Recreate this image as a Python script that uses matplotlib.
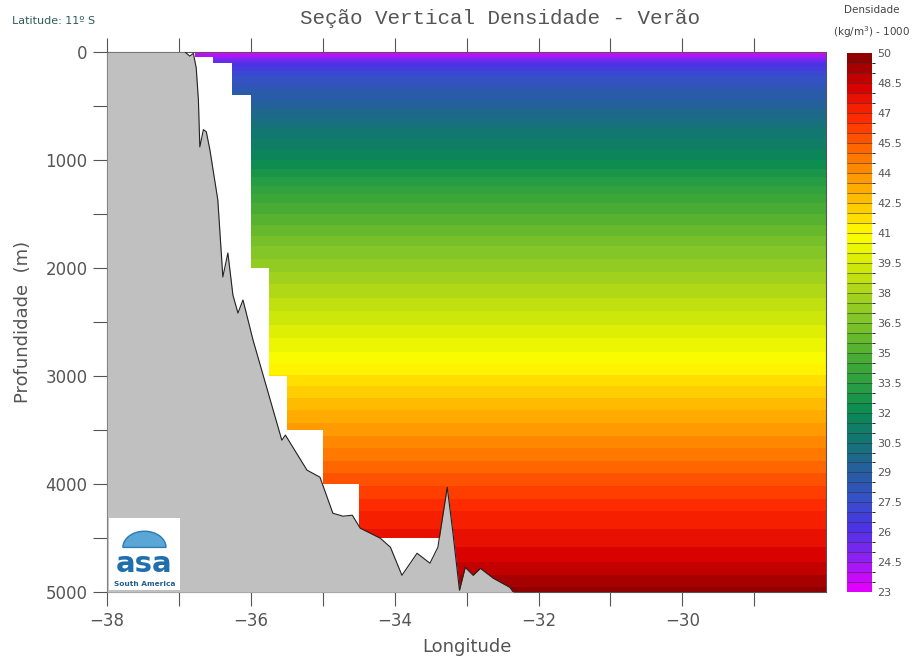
import matplotlib.pyplot as plt
import numpy as np
from matplotlib.colors import LinearSegmentedColormap, BoundaryNorm
from matplotlib.patches import Rectangle, Wedge

# density profile (kg/m3 - 1000) read along depth
prof_depth = [0, 50, 100, 200, 350, 500, 700, 1000, 1400, 1800, 2150, 2450, 2800, 3200, 3550, 3900, 4250, 4650, 5000]
prof_dens = [23.0, 24.5, 26.0, 27.3, 28.5, 29.3, 30.5, 32.0, 34.5, 36.5, 38.0, 39.2, 40.6, 42.5, 44.0, 45.5, 47.0, 48.2, 49.7]

# last valid data depth for each column (step edges in longitude)
grid_lon = [-38.0, -36.78, -36.53, -36.26, -36.0, -35.75, -35.5, -35.0, -34.5, -33.25, -28.0]
grid_maxdepth = [0, 50, 100, 400, 2000, 3000, 3500, 4000, 4500, 5000, 5000]

# bathymetry
bathy_lon = [-38.0, -36.92, -36.85, -36.80, -36.76, -36.73, -36.71, -36.66, -36.62, -36.57, -36.46, -36.39,
             -36.32, -36.25, -36.18, -36.11, -35.97, -35.77, -35.57, -35.52, -35.22, -35.04, -34.86,
             -34.72, -34.59, -34.48, -34.20, -34.06, -33.90, -33.69, -33.51, -33.40, -33.27, -33.19,
             -33.10, -33.02, -32.91, -32.81, -32.63, -32.40, -32.35]
bathy_depth = [0, 0, 40, 15, 150, 444, 880, 720, 740, 907, 1370, 2083,
               1861, 2250, 2417, 2296, 2667, 3130, 3593, 3546, 3870, 3935, 4269,
               4296, 4287, 4407, 4500, 4583, 4843, 4639, 4731, 4583, 4028, 4454,
               4981, 4769, 4843, 4778, 4870, 4954, 5000]

# colour scale
cbar_vals = [23, 24.5, 26, 27.5, 29, 30.5, 32, 33.5, 35, 36.5, 38, 39.5, 41, 42.5, 44, 45.5, 47, 48.5, 50]
cbar_cols = ["#e000ff", "#8a22f2", "#4a34e6", "#3650c8", "#24609a", "#137474", "#0b8c50", "#2ea040",
             "#50b030", "#80c428", "#a8d41a", "#d8ec06", "#ffff00", "#ffc400", "#ff9600", "#ff6000",
             "#ff2800", "#d80000", "#8c0000"]

cmap = LinearSegmentedColormap.from_list(
    "dens", [((v - 23) / 27, c) for v, c in zip(cbar_vals, cbar_cols)])
levels = np.arange(23, 50.01, 0.5)
norm = BoundaryNorm(levels, cmap.N)

fig = plt.figure(figsize=(9.15, 6.64), dpi=100)
ax = fig.add_axes([0.117, 0.108, 0.786, 0.814])

lon2 = np.array([-38.0, -28.0])
Z = np.tile(np.array(prof_dens)[:, None], (1, 2))
ax.contourf(lon2, prof_depth, Z, levels=levels, cmap=cmap, norm=norm, zorder=1)

ax.fill_between(grid_lon, grid_maxdepth, 5000, step="post", color="white", lw=0, zorder=2)
ax.fill_between(bathy_lon, bathy_depth, 5000, color="#c0c0c0", lw=0, zorder=3)
ax.plot(bathy_lon, bathy_depth, color="#222222", lw=0.8, zorder=4)

ax.set_xlim(-38, -28)
ax.set_ylim(5000, 0)
ax.set_xticks(np.arange(-38, -28.5, 2))
ax.set_xticks(np.arange(-37, -28.5, 2), minor=True)
ax.set_yticks(np.arange(0, 5001, 1000))
ax.set_yticks(np.arange(500, 5000, 1000), minor=True)
for which in ("major", "minor"):
    ax.tick_params(which=which, direction="out", length=10, width=0.8, color="#555555",
                   top=True, labelsize=12, labelcolor="#555555", pad=4)
for sp in ax.spines.values():
    sp.set_color("#555555")
    sp.set_linewidth(0.8)

ax.set_xlabel("Longitude", fontsize=13, color="#555555", labelpad=6)
ax.set_ylabel("Profundidade  (m)", fontsize=13, color="#555555", labelpad=10)
fig.text(0.546, 0.972, "Seção Vertical Densidade - Verão", family="Liberation Mono",
         fontsize=15, color="#555555", ha="center", va="center")
fig.text(0.013, 0.968, "Latitude: 11º S", fontsize=8, color="#2e5a5a", ha="left", va="center")

# logo
ax.add_patch(Rectangle((0.003, 0.004), 0.098, 0.133, transform=ax.transAxes,
                       facecolor="white", edgecolor="none", zorder=5))
ax.add_patch(Wedge((0.052, 0.083), 0.03, 0, 180, transform=ax.transAxes,
                   facecolor="#5aa6d6", edgecolor="#2c7bb6", lw=1, zorder=6))
ax.text(0.052, 0.053, "asa", transform=ax.transAxes, fontsize=21, fontweight="bold",
        color="#1f6fae", ha="center", va="center", zorder=7)
ax.text(0.052, 0.016, "South America", transform=ax.transAxes, fontsize=5.3,
        fontweight="bold", color="#1f5f96", ha="center", va="center", zorder=7)

# colour bar
cax = fig.add_axes([0.926, 0.108, 0.027, 0.812])
cb = fig.colorbar(plt.cm.ScalarMappable(norm=norm, cmap=cmap), cax=cax,
                  ticks=cbar_vals, drawedges=True)
cb.dividers.set_color("#333333")
cb.dividers.set_linewidth(0.4)
cb.outline.set_visible(False)
cax.tick_params(length=0, labelsize=8, labelcolor="#555555", pad=4)
cax.set_yticklabels([f"{v:g}" for v in cbar_vals])
fig.text(0.953, 0.985, "Densidade", fontsize=7.5, color="#444444", ha="center", va="center")
fig.text(0.953, 0.952, "(kg/m$^3$) - 1000", fontsize=7.5, color="#444444", ha="center", va="center")

fig.savefig("out.png", dpi=100)
